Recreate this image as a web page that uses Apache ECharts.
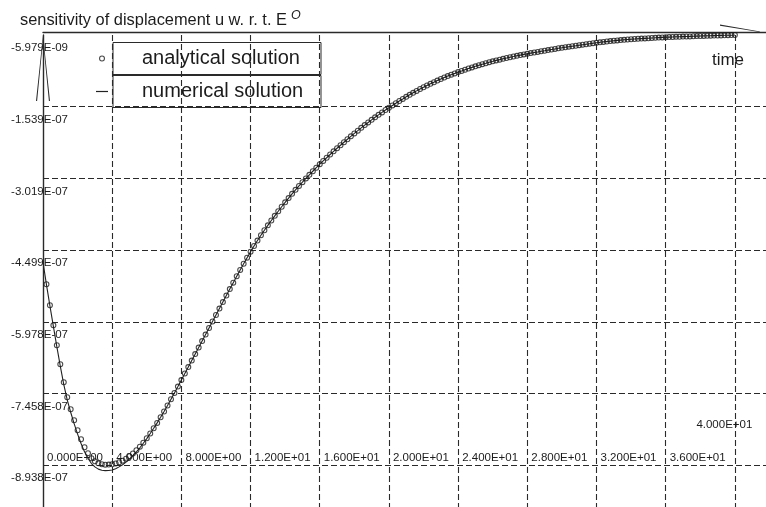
<!DOCTYPE html>
<html>
<head>
<meta charset="utf-8">
<script src="https://cdn.jsdelivr.net/npm/echarts@6.0.0/dist/echarts.min.js"></script>
<style>
html,body{margin:0;padding:0;background:#fff;}
#chart{width:766px;height:507px;}
</style>
</head>
<body>
<div id="chart"></div>
<script>
// time values (s)
const times = [
0,0.2,0.4,0.6,0.8,1,1.2,1.4,1.6,1.8,
2,2.2,2.4,2.6,2.8,3,3.2,3.4,3.6,3.8,
4,4.2,4.4,4.6,4.8,5,5.2,5.4,5.6,5.8,
6,6.2,6.4,6.6,6.8,7,7.2,7.4,7.6,7.8,
8,8.2,8.4,8.6,8.8,9,9.2,9.4,9.6,9.8,
10,10.2,10.4,10.6,10.8,11,11.2,11.4,11.6,11.8,
12,12.2,12.4,12.6,12.8,13,13.2,13.4,13.6,13.8,
14,14.2,14.4,14.6,14.8,15,15.2,15.4,15.6,15.8,
16,16.2,16.4,16.6,16.8,17,17.2,17.4,17.6,17.8,
18,18.2,18.4,18.6,18.8,19,19.2,19.4,19.6,19.8,
20,20.2,20.4,20.6,20.8,21,21.2,21.4,21.6,21.8,
22,22.2,22.4,22.6,22.8,23,23.2,23.4,23.6,23.8,
24,24.2,24.4,24.6,24.8,25,25.2,25.4,25.6,25.8,
26,26.2,26.4,26.6,26.8,27,27.2,27.4,27.6,27.8,
28,28.2,28.4,28.6,28.8,29,29.2,29.4,29.6,29.8,
30,30.2,30.4,30.6,30.8,31,31.2,31.4,31.6,31.8,
32,32.2,32.4,32.6,32.8,33,33.2,33.4,33.6,33.8,
34,34.2,34.4,34.6,34.8,35,35.2,35.4,35.6,35.8,
36,36.2,36.4,36.6,36.8,37,37.2,37.4,37.6,37.8,
38,38.2,38.4,38.6,38.8,39,39.2,39.4,39.6,39.8,
40];

// analytical solution (circles), no marker at t = 0
const analytical = [
null,
-5.203e-7,-5.636e-7,-6.049e-7,-6.461e-7,-6.854e-7,
-7.225e-7,-7.535e-7,-7.782e-7,-8.009e-7,-8.216e-7,
-8.401e-7,-8.566e-7,-8.690e-7,-8.793e-7,-8.855e-7,
-8.897e-7,-8.917e-7,-8.925e-7,-8.923e-7,-8.917e-7,
-8.901e-7,-8.876e-7,-8.843e-7,-8.802e-7,-8.752e-7,
-8.694e-7,-8.628e-7,-8.554e-7,-8.471e-7,-8.381e-7,
-8.282e-7,-8.174e-7,-8.063e-7,-7.947e-7,-7.828e-7,
-7.704e-7,-7.576e-7,-7.446e-7,-7.314e-7,-7.180e-7,
-7.045e-7,-6.911e-7,-6.777e-7,-6.643e-7,-6.509e-7,
-6.375e-7,-6.241e-7,-6.106e-7,-5.972e-7,-5.838e-7,
-5.704e-7,-5.570e-7,-5.436e-7,-5.302e-7,-5.170e-7,
-5.037e-7,-4.907e-7,-4.780e-7,-4.654e-7,-4.530e-7,
-4.414e-7,-4.301e-7,-4.191e-7,-4.088e-7,-3.987e-7,
-3.888e-7,-3.791e-7,-3.696e-7,-3.603e-7,-3.512e-7,
-3.424e-7,-3.337e-7,-3.254e-7,-3.174e-7,-3.096e-7,
-3.019e-7,-2.945e-7,-2.871e-7,-2.798e-7,-2.726e-7,
-2.658e-7,-2.592e-7,-2.526e-7,-2.460e-7,-2.396e-7,
-2.334e-7,-2.272e-7,-2.210e-7,-2.150e-7,-2.090e-7,
-2.033e-7,-1.975e-7,-1.919e-7,-1.864e-7,-1.810e-7,
-1.758e-7,-1.707e-7,-1.657e-7,-1.608e-7,-1.560e-7,
-1.513e-7,-1.467e-7,-1.422e-7,-1.379e-7,-1.335e-7,
-1.294e-7,-1.253e-7,-1.213e-7,-1.174e-7,-1.137e-7,
-1.102e-7,-1.067e-7,-1.034e-7,-1.001e-7,-0.968e-7,
-0.937e-7,-0.908e-7,-0.879e-7,-0.852e-7,-0.825e-7,
-0.801e-7,-0.776e-7,-0.751e-7,-0.728e-7,-0.706e-7,
-0.683e-7,-0.662e-7,-0.642e-7,-0.621e-7,-0.603e-7,
-0.584e-7,-0.568e-7,-0.551e-7,-0.535e-7,-0.518e-7,
-0.504e-7,-0.489e-7,-0.475e-7,-0.460e-7,-0.448e-7,
-0.433e-7,-0.421e-7,-0.409e-7,-0.396e-7,-0.384e-7,
-0.371e-7,-0.359e-7,-0.347e-7,-0.334e-7,-0.324e-7,
-0.312e-7,-0.301e-7,-0.291e-7,-0.281e-7,-0.270e-7,
-0.260e-7,-0.250e-7,-0.239e-7,-0.229e-7,-0.219e-7,
-0.211e-7,-0.202e-7,-0.194e-7,-0.186e-7,-0.177e-7,
-0.171e-7,-0.165e-7,-0.159e-7,-0.153e-7,-0.147e-7,
-0.142e-7,-0.138e-7,-0.134e-7,-0.130e-7,-0.126e-7,
-0.122e-7,-0.118e-7,-0.113e-7,-0.109e-7,-0.105e-7,
-0.103e-7,-0.101e-7,-0.097e-7,-0.095e-7,-0.093e-7,
-0.091e-7,-0.089e-7,-0.085e-7,-0.082e-7,-0.080e-7,
-0.078e-7,-0.076e-7,-0.074e-7,-0.072e-7,-0.070e-7,
-0.068e-7,-0.066e-7,-0.064e-7,-0.062e-7,-0.0598e-7];

// numerical solution (solid line)
const numerical = [
-4.749e-7,
-5.209e-7,-5.648e-7,-6.070e-7,-6.490e-7,-6.891e-7,
-7.270e-7,-7.589e-7,-7.844e-7,-8.079e-7,-8.294e-7,
-8.488e-7,-8.661e-7,-8.793e-7,-8.902e-7,-8.971e-7,
-9.017e-7,-9.041e-7,-9.049e-7,-9.047e-7,-9.035e-7,
-9.008e-7,-8.971e-7,-8.926e-7,-8.872e-7,-8.810e-7,
-8.739e-7,-8.661e-7,-8.577e-7,-8.483e-7,-8.387e-7,
-8.282e-7,-8.174e-7,-8.063e-7,-7.947e-7,-7.828e-7,
-7.704e-7,-7.576e-7,-7.446e-7,-7.314e-7,-7.180e-7,
-7.045e-7,-6.911e-7,-6.777e-7,-6.643e-7,-6.509e-7,
-6.375e-7,-6.241e-7,-6.106e-7,-5.972e-7,-5.838e-7,
-5.704e-7,-5.570e-7,-5.436e-7,-5.302e-7,-5.170e-7,
-5.037e-7,-4.907e-7,-4.780e-7,-4.654e-7,-4.530e-7,
-4.414e-7,-4.301e-7,-4.191e-7,-4.088e-7,-3.987e-7,
-3.888e-7,-3.791e-7,-3.696e-7,-3.603e-7,-3.512e-7,
-3.424e-7,-3.337e-7,-3.254e-7,-3.174e-7,-3.096e-7,
-3.019e-7,-2.945e-7,-2.871e-7,-2.798e-7,-2.726e-7,
-2.658e-7,-2.592e-7,-2.526e-7,-2.460e-7,-2.396e-7,
-2.334e-7,-2.272e-7,-2.210e-7,-2.150e-7,-2.090e-7,
-2.033e-7,-1.975e-7,-1.919e-7,-1.864e-7,-1.810e-7,
-1.758e-7,-1.707e-7,-1.657e-7,-1.608e-7,-1.560e-7,
-1.513e-7,-1.467e-7,-1.422e-7,-1.379e-7,-1.335e-7,
-1.294e-7,-1.253e-7,-1.213e-7,-1.174e-7,-1.137e-7,
-1.102e-7,-1.067e-7,-1.034e-7,-1.001e-7,-0.968e-7,
-0.937e-7,-0.908e-7,-0.879e-7,-0.852e-7,-0.825e-7,
-0.801e-7,-0.776e-7,-0.751e-7,-0.728e-7,-0.706e-7,
-0.683e-7,-0.662e-7,-0.642e-7,-0.621e-7,-0.603e-7,
-0.584e-7,-0.568e-7,-0.551e-7,-0.535e-7,-0.518e-7,
-0.504e-7,-0.489e-7,-0.475e-7,-0.460e-7,-0.448e-7,
-0.433e-7,-0.421e-7,-0.409e-7,-0.396e-7,-0.384e-7,
-0.371e-7,-0.359e-7,-0.347e-7,-0.334e-7,-0.324e-7,
-0.312e-7,-0.301e-7,-0.291e-7,-0.281e-7,-0.270e-7,
-0.260e-7,-0.250e-7,-0.239e-7,-0.229e-7,-0.219e-7,
-0.211e-7,-0.202e-7,-0.194e-7,-0.186e-7,-0.177e-7,
-0.171e-7,-0.165e-7,-0.159e-7,-0.153e-7,-0.147e-7,
-0.142e-7,-0.138e-7,-0.134e-7,-0.130e-7,-0.126e-7,
-0.122e-7,-0.118e-7,-0.113e-7,-0.109e-7,-0.105e-7,
-0.103e-7,-0.101e-7,-0.097e-7,-0.095e-7,-0.093e-7,
-0.091e-7,-0.089e-7,-0.085e-7,-0.082e-7,-0.080e-7,
-0.078e-7,-0.076e-7,-0.074e-7,-0.072e-7,-0.070e-7,
-0.068e-7,-0.066e-7,-0.064e-7,-0.062e-7,-0.0598e-7];

const xTickLabels = ['0.000E+00','4.000E+00','8.000E+00','1.200E+01','1.600E+01','2.000E+01',
  '2.400E+01','2.800E+01','3.200E+01','3.600E+01','4.000E+01'];
const xStep = 4;
const yTickLabels = ['-5.979E-09','-1.539E-07','-3.019E-07','-4.499E-07','-5.978E-07','-7.458E-07','-8.938E-07'];
const yTop = -5.979e-9;
const yStep = 1.4797e-7;

const FONT = '"Liberation Sans", Arial, sans-serif';
const INK = '#1c1c1c';
const ringPath = 'path://M0,5A5,5 0 1,0 10,5A5,5 0 1,0 0,5Z M1.8,5A3.2,3.2 0 1,1 8.2,5A3.2,3.2 0 1,1 1.8,5Z';
const linePath = 'path://M0,0L12,0L12,1.2L0,1.2Z';

const chart = echarts.init(document.getElementById('chart'), null, {renderer: 'canvas'});
chart.setOption({
  animation: false,
  backgroundColor: '#ffffff',
  title: {
    text: '{a|sensitivity of displacement u w. r. t. E}{b|O}',
    left: 20, top: 9, padding: 0,
    textStyle: {
      fontWeight: 'normal',
      rich: {
        a: {fontFamily: FONT, fontSize: 16.4, fontWeight: 'normal', color: INK, lineHeight: 22},
        b: {fontFamily: FONT, fontSize: 12.5, fontWeight: 'normal', fontStyle: 'italic', color: INK, verticalAlign: 'top', lineHeight: 14, padding: [0,0,0,4]}
      }
    }
  },
  legend: {
    orient: 'vertical', left: 96, top: 42, padding: 0, itemGap: 0,
    itemWidth: 12, itemHeight: 6, selectedMode: false,
    itemStyle: {borderWidth: 0},
    data: [{name: 'analytical solution', icon: ringPath}, {name: 'numerical solution', icon: linePath}],
    formatter: function (n) { return '{box|' + n + '}'; },
    textStyle: {
      fontFamily: FONT, fontSize: 20, color: INK,
      rich: {box: {fontFamily: FONT, fontSize: 20, color: INK, width: 179, height: 32, padding: [0,0,0,29],
        borderColor: '#2a2a2a', borderWidth: 1, align: 'left', verticalAlign: 'middle'}}
    }
  },
  grid: {left: 43, right: 0, top: 35, bottom: -30, containLabel: false, outerBoundsMode: 'none'},
  xAxis: {
    type: 'value', position: 'top', offset: 3,
    min: 0, max: 41.8, interval: xStep,
    name: 'time', nameLocation: 'end', nameGap: -38, nameMoveOverlap: false,
    nameTextStyle: {fontFamily: FONT, fontSize: 17, color: INK, align: 'center', verticalAlign: 'top', padding: [20,0,0,0]},
    axisLine: {show: true, lineStyle: {color: '#2a2a2a', width: 1.4},
      symbol: ['none', 'path://M0,40L7,0L7.6,0.6L1.2,40Z M15,40L15,40'],
      symbolSize: [15, 40], symbolOffset: [0, -26]},
    axisTick: {show: false},
    splitLine: {show: true, showMinLine: false, showMaxLine: false, lineStyle: {color: '#2a2a2a', width: 1.1, type: [6, 3]}},
    axisLabel: {
      inside: true, margin: 426, align: 'center', verticalAlign: 'middle',
      showMinLabel: true, showMaxLabel: true, hideOverlap: false,
      fontFamily: FONT, fontSize: 11.5, color: INK,
      formatter: function (v) {
        const k = Math.round(v / xStep);
        if (Math.abs(v - k * xStep) > 1e-6 || k < 0 || k >= xTickLabels.length) return '';
        return (k === xTickLabels.length - 1 ? '{last|' : '{n|') + xTickLabels[k] + '}';
      },
      rich: {
        n: {fontFamily: FONT, fontSize: 11.5, color: INK, padding: [0,0,0,64]},
        last: {fontFamily: FONT, fontSize: 11.5, color: INK, padding: [0,21,66,0]}
      }
    }
  },
  yAxis: {
    type: 'value',
    min: yTop - 7 * yStep, max: yTop, interval: yStep,
    axisLine: {show: true, onZero: false, lineStyle: {color: '#2a2a2a', width: 1.4},
      symbol: ['none', 'path://M0,66L7,0L14,66L12.9,66L7,6L1.1,66Z'],
      symbolSize: [14, 66], symbolOffset: [0, -33]},
    axisTick: {show: false},
    splitLine: {show: true, showMinLine: false, showMaxLine: false, lineStyle: {color: '#2a2a2a', width: 1.1, type: [6, 3]}},
    axisLabel: {
      margin: -25, align: 'right', verticalAlign: 'top', padding: [7,0,0,0],
      showMinLabel: true, showMaxLabel: true, hideOverlap: false,
      fontFamily: FONT, fontSize: 11.5, color: INK,
      formatter: function (v) {
        const k = Math.round((yTop - v) / yStep);
        if (k < 0 || k >= yTickLabels.length) return '';
        if (Math.abs(yTop - k * yStep - v) > yStep * 0.01) return '';
        return yTickLabels[k];
      }
    }
  },
  series: [
    {
      name: 'numerical solution', type: 'line', silent: true,
      data: times.map(function (t, i) { return [t, numerical[i]]; }),
      showSymbol: false, symbol: 'none', smooth: false,
      lineStyle: {color: '#222', width: 1.1},
      itemStyle: {color: '#222'}, z: 2
    },
    {
      name: 'analytical solution', type: 'scatter', silent: true,
      data: times.map(function (t, i) { return [t, analytical[i]]; }).filter(function (d) { return d[1] !== null; }),
      symbol: ringPath, symbolSize: 6,
      itemStyle: {color: '#1a1a1a', borderWidth: 0}, z: 3
    }
  ]
});
</script>
</body>
</html>
